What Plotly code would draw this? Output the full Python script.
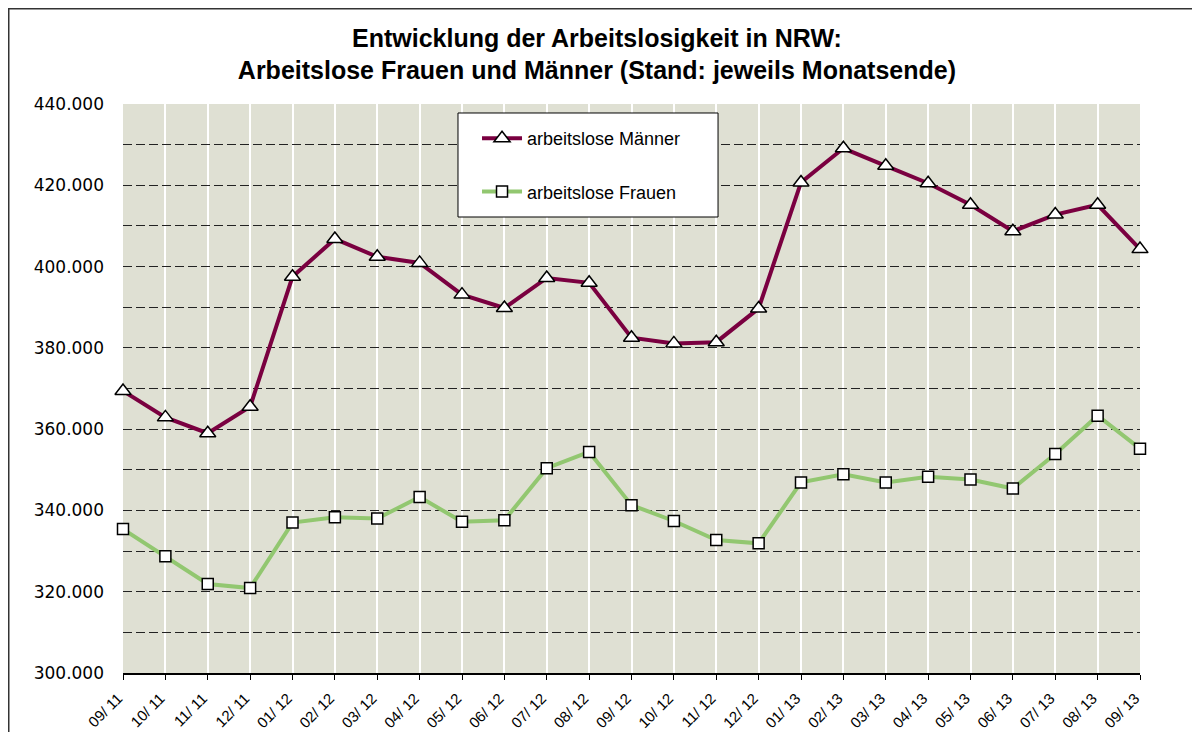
import plotly.graph_objects as go

months = ["09/ 11", "10/ 11", "11/ 11", "12/ 11", "01/ 12", "02/ 12", "03/ 12", "04/ 12",
          "05/ 12", "06/ 12", "07/ 12", "08/ 12", "09/ 12", "10/ 12", "11/ 12", "12/ 12",
          "01/ 13", "02/ 13", "03/ 13", "04/ 13", "05/ 13", "06/ 13", "07/ 13", "08/ 13", "09/ 13"]

maenner = [369400, 362900, 359000, 365500, 397500, 406800, 402400, 400900,
           393100, 389800, 397200, 396000, 382500, 381100, 381400, 389700,
           420700, 429100, 424800, 420500, 415200, 408700, 412800, 415200, 404300]

frauen = [335400, 328700, 321900, 320900, 337000, 338300, 338000, 343300,
          337200, 337600, 350400, 354400, 341300, 337400, 332700, 331900,
          346900, 348900, 346900, 348300, 347600, 345400, 353900, 363300, 355200]

y_labels = [300000, 320000, 340000, 360000, 380000, 400000, 420000, 440000]
y_grid = [310000, 320000, 330000, 340000, 350000, 360000, 370000, 380000,
          390000, 400000, 410000, 420000, 430000]

title_text = "Entwicklung der Arbeitslosigkeit in NRW:<br>Arbeitslose Frauen und Männer (Stand: jeweils Monatsende)"

xs = list(range(len(months)))
y_range = [300000, 440000]

fig = go.Figure()
fig.add_trace(go.Scatter(
    x=xs, y=maenner, name="arbeitslose Männer", mode="lines+markers",
    line=dict(color="#7A0040", width=4),
    marker=dict(symbol="triangle-up", size=14, color="white",
                line=dict(color="black", width=1.5)),
    cliponaxis=False, legendgroup="m"))
fig.add_trace(go.Scatter(
    x=xs, y=frauen, name="arbeitslose Frauen", mode="lines+markers",
    line=dict(color="#92C770", width=4),
    marker=dict(symbol="square", size=11, color="white",
                line=dict(color="black", width=1.5)),
    cliponaxis=False, legendgroup="f", yaxis="y2"))

fig.update_layout(
    width=1184, height=724,
    margin=dict(l=115, r=52, t=96, b=59, autoexpand=False),
    paper_bgcolor="white",
    plot_bgcolor="#DFE0D3",
    separators=",.",
    title=dict(text="<b>" + title_text + "</b>", x=0.466, xref="paper", xanchor="center",
               y=0.9468, yref="container", yanchor="middle",
               font=dict(family="Liberation Sans Narrow, Liberation Sans, Arial", size=25, color="black")),
    showlegend=True,
    legend=dict(x=0.3481, y=0.9719, xanchor="left", yanchor="top",
                bgcolor="rgba(0,0,0,0)", borderwidth=0,
                font=dict(family="Liberation Sans, Arial", size=18, color="black"),
                tracegroupgap=27, itemwidth=40),
    xaxis=dict(
        range=[0, len(months) - 1], tickmode="array", tickvals=xs, ticktext=months,
        tickangle=-45, tickfont=dict(family="Liberation Sans, Arial", size=15, color="black"),
        ticklabelshift=-5, ticklabelstandoff=4,
        showgrid=True, gridcolor="white", gridwidth=2,
        showline=True, linecolor="black", linewidth=1.5,
        ticks="outside", ticklen=5, tickcolor="black", tickwidth=1,
        zeroline=False, automargin=False),
    yaxis=dict(
        range=y_range, tickmode="array", tickvals=y_labels,
        tickformat=",.0f", tickfont=dict(family="DejaVu Sans", size=17, color="black"),
        showgrid=False, showline=False, zeroline=False, ticks="", ticklabelstandoff=18,
        automargin=False),
    yaxis2=dict(
        range=y_range, overlaying="y", side="left", tickmode="array",
        tickvals=y_grid, showticklabels=False, showgrid=True,
        gridcolor="#222222", gridwidth=1, griddash="9px,4px",
        showline=False, zeroline=False, ticks="", automargin=False),
)

# legend box
fig.add_shape(type="rect", xref="paper", yref="paper",
              x0=0.3294, x1=0.5851, y0=0.8014, y1=0.9842,
              line=dict(color="black", width=1), fillcolor="white", layer="above")

# outer frame
fig.add_shape(type="rect", xref="paper", yref="paper",
              x0=-0.11234, x1=1.2, y0=-0.3, y1=1.1674,
              line=dict(color="#333333", width=1.5), fillcolor="rgba(0,0,0,0)", layer="above")

fig.write_html("out.html")
